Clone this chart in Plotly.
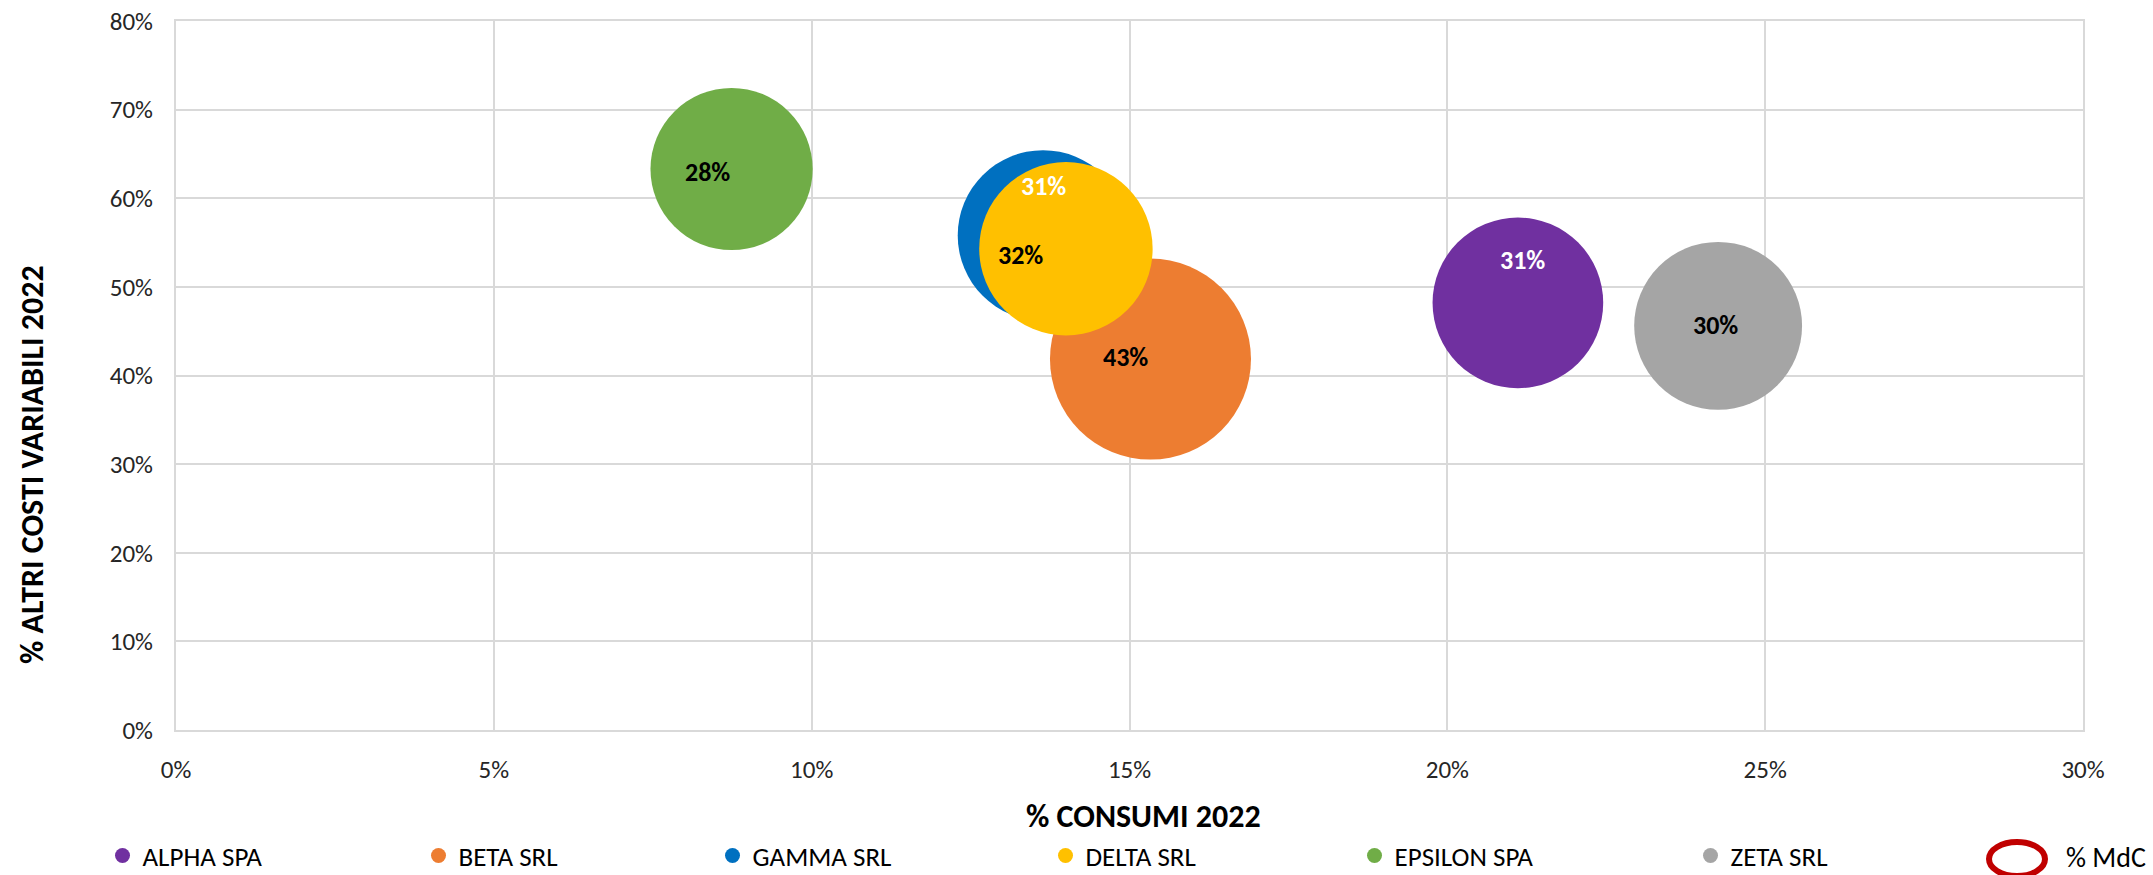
import plotly.graph_objects as go

# data
companies = ["ALPHA SPA", "BETA SRL", "GAMMA SRL", "DELTA SRL", "EPSILON SPA", "ZETA SRL"]
consumi = [0.2111, 0.1533, 0.1364, 0.1400, 0.0874, 0.2426]       # x
altri_costi = [0.482, 0.4185, 0.558, 0.543, 0.633, 0.456]        # y
mdc = [0.31, 0.43, 0.31, 0.32, 0.28, 0.30]                       # bubble size

COLORS = ["#7030A0", "#ED7D31", "#0070C0", "#FFC000", "#70AD47", "#A5A5A5"]
LABEL_COLORS = ["white", "black", "white", "black", "black", "black"]
# label offsets in px (Excel labels were nudged by hand)
LABEL_SHIFT = [(5, 43), (-25, 2), (0, 49), (-45, -6), (-24, -3), (-3, 1)]
# Excel spaces legend entries by text width, so each entry gets its own legend
LEGEND_DOT_X = [119, 435, 729, 1062, 1371, 1707]

FONT = "Calibri, Carlito, Lato, sans-serif"
W, H = 2153, 875
L, R, T, B = 176, 70, 21, 145
PW, PH = W - L - R, H - T - B


def px_x(p):
    return (p - L) / PW


def px_y(p):
    return (H - B - p) / PH


MAX_DIAM = 201
sizeref = 2.0 * max(mdc) / MAX_DIAM ** 2

fig = go.Figure()

for i, name in enumerate(companies):
    fig.add_trace(go.Scatter(
        x=[consumi[i]], y=[altri_costi[i]],
        mode="markers",
        name=name,
        showlegend=False,
        marker=dict(size=[mdc[i]], sizemode="area", sizeref=sizeref,
                    color=COLORS[i], line=dict(width=0), opacity=1),
        hoverinfo="skip",
    ))

# legend proxies, so the legend dots stay small
legends = {}
for i, name in enumerate(companies):
    key = "legend" if i == 0 else f"legend{i + 1}"
    fig.add_trace(go.Scatter(
        x=[None], y=[None], mode="markers", name=name, legend=key,
        marker=dict(size=15, color=COLORS[i]),
    ))
    legends[key] = dict(
        orientation="h", x=px_x(LEGEND_DOT_X[i] - 16.5), xanchor="left",
        y=px_y(856), yanchor="middle", itemwidth=30,
        font=dict(family=FONT, size=27, color="black"),
        bgcolor="rgba(0,0,0,0)",
    )

for i in range(len(companies)):
    dx, dy = LABEL_SHIFT[i]
    fig.add_annotation(
        x=consumi[i], y=altri_costi[i], text=f"{mdc[i]:.0%}",
        showarrow=False, xshift=dx, yshift=dy,
        font=dict(family=FONT, size=26, color=LABEL_COLORS[i], weight="bold"),
    )

# axis titles (y title sits lower than centre in the original)
fig.add_annotation(
    xref="paper", yref="paper", x=px_x(1143), y=px_y(816),
    text="% CONSUMI 2022", showarrow=False, yanchor="middle",
    font=dict(family=FONT, size=32, color="black", weight="bold"),
)
fig.add_annotation(
    xref="paper", yref="paper", x=px_x(32), y=px_y(465),
    text="% ALTRI COSTI VARIABILI 2022", showarrow=False, textangle=-90,
    xanchor="center", yanchor="middle",
    font=dict(family=FONT, size=32, color="black", weight="bold"),
)

# "% MdC" bubble-size key
fig.add_shape(
    type="circle", xref="paper", yref="paper",
    x0=px_x(1989), x1=px_x(2045), y0=px_y(876), y1=px_y(842),
    line=dict(color="#C00000", width=6),
)
fig.add_annotation(
    xref="paper", yref="paper", x=px_x(2064), y=px_y(857),
    text="% MdC", showarrow=False, xanchor="left", yanchor="middle",
    font=dict(family=FONT, size=28, color="black"),
)

axis_style = dict(
    showgrid=True, gridcolor="#D9D9D9", gridwidth=2,
    showline=True, linecolor="#D9D9D9", linewidth=2, mirror=True,
    zeroline=False, ticks="", tickformat=".0%",
    tickfont=dict(family=FONT, size=25, color="#262626"),
    ticklabelstandoff=16,
)

fig.update_layout(
    width=W, height=H,
    margin=dict(l=L, r=R, t=T, b=B, autoexpand=False),
    paper_bgcolor="white",
    plot_bgcolor="white",
    xaxis=dict(range=[0, 0.30], dtick=0.05, **axis_style),
    yaxis=dict(range=[0, 0.80], dtick=0.10, **axis_style),
    **legends,
)

# drop the browser's default body margin so the figure fills the window
fig.write_html(
    "out.html",
    config={"displayModeBar": False},
    post_script="document.body.style.margin='0';",
)
